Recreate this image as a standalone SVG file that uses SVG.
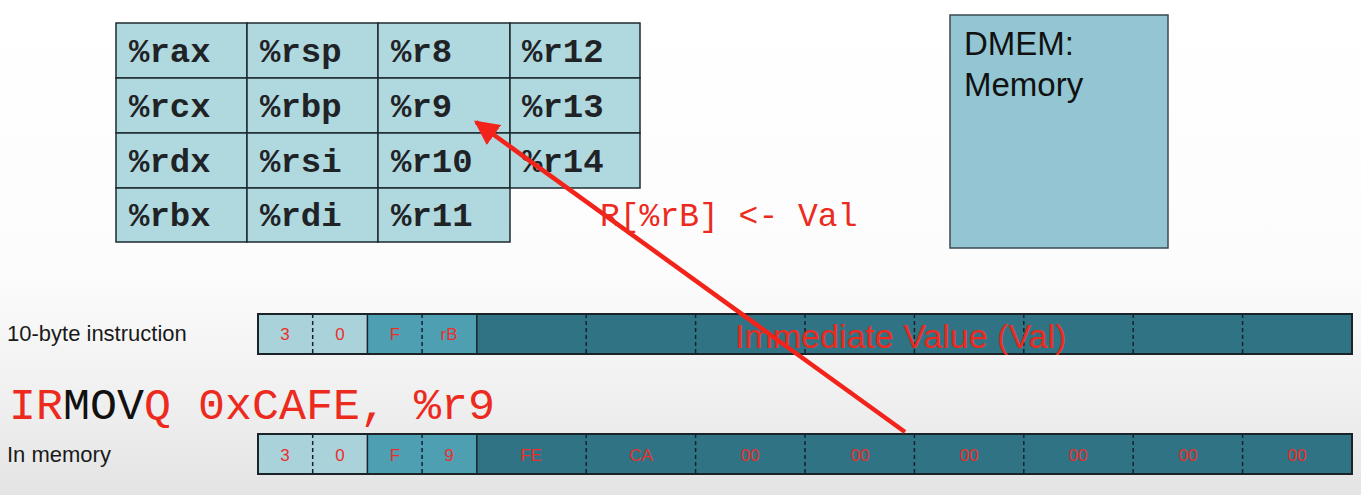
<svg xmlns="http://www.w3.org/2000/svg" width="1361" height="495" viewBox="0 0 1361 495">
<defs>
<linearGradient id="bg" x1="0" y1="0" x2="0" y2="1">
<stop offset="0" stop-color="#ffffff"/>
<stop offset="0.55" stop-color="#fcfcfc"/>
<stop offset="0.8" stop-color="#f0f0f0"/>
<stop offset="1" stop-color="#e4e4e4"/>
</linearGradient>
<marker id="ah" viewBox="0 0 10 10" refX="9" refY="5" markerWidth="5.5" markerHeight="5.5" orient="auto" markerUnits="strokeWidth">
<path d="M0,0 L10,5 L0,10 z" fill="#f2231a"/>
</marker>
<style>
.reg{fill:#b0d8df;stroke:#1c2a30;stroke-width:1.5}
.rt{font-family:"Liberation Mono",monospace;font-size:34px;font-weight:bold;fill:#1f2326}
.lbl{font-family:"Liberation Sans",Arial,sans-serif;font-size:22px;fill:#1a1a1a}
.c1{fill:#a9d2db}
.c2{fill:#4f9fb3}
.c3{fill:#2f7385}
.frame{fill:none;stroke:#1b2328;stroke-width:2}
.solid{stroke:#1b2328;stroke-width:1.5}
.dash{stroke:#14232b;stroke-width:1.5;stroke-dasharray:4,3}
.ct{font-family:"Liberation Sans",Arial,sans-serif;font-size:17px;fill:#e8302a;text-anchor:middle}
.red{fill:#ec2a1e}
</style>
</defs>
<rect x="0" y="0" width="1361" height="495" fill="url(#bg)"/>

<g id="registers">
<rect class="reg" x="116" y="23" width="131" height="55"/>
<rect class="reg" x="247" y="23" width="131" height="55"/>
<rect class="reg" x="378" y="23" width="132" height="55"/>
<rect class="reg" x="510" y="23" width="130" height="55"/>
<rect class="reg" x="116" y="78" width="131" height="55"/>
<rect class="reg" x="247" y="78" width="131" height="55"/>
<rect class="reg" x="378" y="78" width="132" height="55"/>
<rect class="reg" x="510" y="78" width="130" height="55"/>
<rect class="reg" x="116" y="133" width="131" height="55"/>
<rect class="reg" x="247" y="133" width="131" height="55"/>
<rect class="reg" x="378" y="133" width="132" height="55"/>
<rect class="reg" x="510" y="133" width="130" height="55"/>
<rect class="reg" x="116" y="188" width="131" height="54"/>
<rect class="reg" x="247" y="188" width="131" height="54"/>
<rect class="reg" x="378" y="188" width="132" height="54"/>
<text class="rt" x="129" y="62">%rax</text>
<text class="rt" x="260" y="62">%rsp</text>
<text class="rt" x="391" y="62">%r8</text>
<text class="rt" x="522" y="62">%r12</text>
<text class="rt" x="129" y="117">%rcx</text>
<text class="rt" x="260" y="117">%rbp</text>
<text class="rt" x="391" y="117">%r9</text>
<text class="rt" x="522" y="117">%r13</text>
<text class="rt" x="129" y="172">%rdx</text>
<text class="rt" x="260" y="172">%rsi</text>
<text class="rt" x="391" y="172">%r10</text>
<text class="rt" x="522" y="172">%r14</text>
<text class="rt" x="129" y="226">%rbx</text>
<text class="rt" x="260" y="226">%rdi</text>
<text class="rt" x="391" y="226">%r11</text>
</g>

<g id="dmem">
<rect x="950" y="15" width="218" height="233" fill="#93c6d2" stroke="#3a4a50" stroke-width="1.5"/>
<text x="964" y="55" font-family="Liberation Sans, Arial, sans-serif" font-size="33" fill="#111">DMEM:</text>
<text x="964" y="96" font-family="Liberation Sans, Arial, sans-serif" font-size="33" fill="#111">Memory</text>
</g>

<g id="instr-format">
<text class="lbl" x="7" y="341">10-byte instruction</text>
<rect class="c1" x="258" y="314" width="109.4" height="40"/>
<rect class="c2" x="367.4" y="314" width="109.4" height="40"/>
<rect class="c3" x="476.8" y="314" width="875.2" height="40"/>
<line class="dash" x1="312.7" y1="314" x2="312.7" y2="354"/>
<line class="solid" x1="367.4" y1="314" x2="367.4" y2="354"/>
<line class="dash" x1="422.1" y1="314" x2="422.1" y2="354"/>
<line class="solid" x1="476.8" y1="314" x2="476.8" y2="354"/>
<line class="dash" x1="586.2" y1="314" x2="586.2" y2="354"/>
<line class="dash" x1="695.6" y1="314" x2="695.6" y2="354"/>
<line class="dash" x1="805" y1="314" x2="805" y2="354"/>
<line class="dash" x1="914.4" y1="314" x2="914.4" y2="354"/>
<line class="dash" x1="1023.8" y1="314" x2="1023.8" y2="354"/>
<line class="dash" x1="1133.2" y1="314" x2="1133.2" y2="354"/>
<line class="dash" x1="1242.6" y1="314" x2="1242.6" y2="354"/>
<rect class="frame" x="258" y="314" width="1094" height="40"/>
<text class="ct" x="285" y="340">3</text>
<text class="ct" x="340" y="340">0</text>
<text class="ct" x="395" y="340">F</text>
<text class="ct" x="449" y="340">rB</text>
<text x="735" y="348" font-family="Liberation Sans, Arial, sans-serif" font-size="34" fill="#ec2a1e">Immediate Value (Val)</text>
</g>

<g id="assembly">
<text x="9" y="419" font-family="Liberation Mono, monospace" font-size="45" class="red"><tspan>IR</tspan><tspan fill="#111">MOV</tspan><tspan>Q 0xCAFE, %r9</tspan></text>
</g>

<g id="in-memory">
<text class="lbl" x="7" y="462">In memory</text>
<rect class="c1" x="258" y="434" width="109.4" height="40"/>
<rect class="c2" x="367.4" y="434" width="109.4" height="40"/>
<rect class="c3" x="476.8" y="434" width="875.2" height="40"/>
<line class="dash" x1="312.7" y1="434" x2="312.7" y2="474"/>
<line class="solid" x1="367.4" y1="434" x2="367.4" y2="474"/>
<line class="dash" x1="422.1" y1="434" x2="422.1" y2="474"/>
<line class="solid" x1="476.8" y1="434" x2="476.8" y2="474"/>
<line class="dash" x1="586.2" y1="434" x2="586.2" y2="474"/>
<line class="dash" x1="695.6" y1="434" x2="695.6" y2="474"/>
<line class="dash" x1="805" y1="434" x2="805" y2="474"/>
<line class="dash" x1="914.4" y1="434" x2="914.4" y2="474"/>
<line class="dash" x1="1023.8" y1="434" x2="1023.8" y2="474"/>
<line class="dash" x1="1133.2" y1="434" x2="1133.2" y2="474"/>
<line class="dash" x1="1242.6" y1="434" x2="1242.6" y2="474"/>
<rect class="frame" x="258" y="434" width="1094" height="40"/>
<text class="ct" x="285" y="461">3</text>
<text class="ct" x="340" y="461">0</text>
<text class="ct" x="395" y="461">F</text>
<text class="ct" x="449" y="461">9</text>
<text class="ct" x="531" y="461">FE</text>
<text class="ct" x="641" y="461">CA</text>
<text class="ct" x="750" y="461">00</text>
<text class="ct" x="860" y="461">00</text>
<text class="ct" x="969" y="461">00</text>
<text class="ct" x="1078" y="461">00</text>
<text class="ct" x="1188" y="461">00</text>
<text class="ct" x="1297" y="461">00</text>
</g>

<g id="connectors">
<line x1="905" y1="432" x2="476" y2="122" stroke="#f2231a" stroke-width="4.5" marker-end="url(#ah)"/>
<text x="600" y="226" font-family="Liberation Mono, monospace" font-size="33" fill="#ec2a1e">R[%rB] &lt;- Val</text>
</g>
</svg>
